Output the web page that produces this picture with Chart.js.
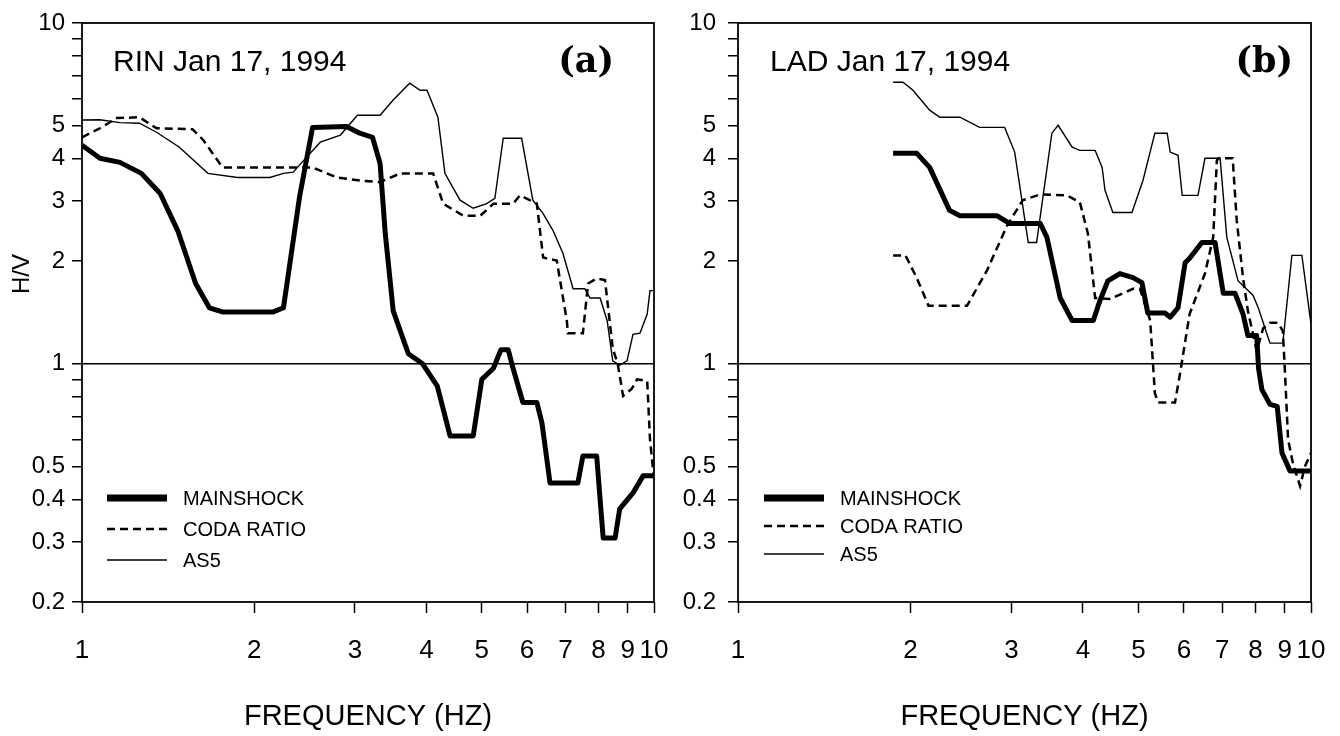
<!DOCTYPE html>
<html><head><meta charset="utf-8">
<script src="https://cdn.jsdelivr.net/npm/chart.js@4.4.1/dist/chart.umd.min.js"></script>
<style>
html,body{margin:0;padding:0;background:#fff;overflow:hidden}
#wrap{position:relative;width:1340px;height:736px;background:#fff}
canvas{position:absolute;top:0}
#ca{left:0}
#cb{left:670px}
</style></head><body>
<div id="wrap"><canvas id="ca" width="670" height="736"></canvas><canvas id="cb" width="670" height="736"></canvas></div>
<script>
// ---- tick labels ----
const xTicks = [1,2,3,4,5,6,7,8,9,10];
const yTicks = [0.2,0.3,0.4,0.5,0.6,0.7,0.8,0.9,1,2,3,4,5,6,7,8,9,10];
const yLabeled = [0.2,0.3,0.4,0.5,1,2,3,4,5,10];
const seriesNames = ['MAINSHOCK','CODA RATIO','AS5'];

// ---- (a) RIN Jan 17, 1994 ----
const rinMainFreq = [1,1.075,1.165,1.27,1.37,1.47,1.58,1.67,1.76,2.16,2.25,2.4,2.53,2.9,3.06,3.22,3.32,3.39,3.5,3.72,3.94,4.18,4.4,4.83,5.0,5.24,5.4,5.56,5.67,5.9,6.24,6.37,6.58,7.36,7.51,7.94,8.15,8.55,8.71,9.19,9.57,10];
const rinMainHV   = [4.38,4.01,3.9,3.62,3.16,2.46,1.72,1.46,1.42,1.42,1.46,3.08,4.94,4.97,4.75,4.62,3.87,2.41,1.43,1.07,1.0,0.86,0.614,0.614,0.9,0.97,1.1,1.1,0.97,0.77,0.77,0.67,0.447,0.447,0.536,0.536,0.308,0.308,0.375,0.418,0.469,0.469];
const rinCodaFreq = [1,1.075,1.15,1.26,1.35,1.56,1.63,1.76,2.53,2.79,3.06,3.32,3.6,4.11,4.28,4.64,4.97,5.24,5.67,5.83,6.24,6.4,6.76,7.04,7.07,7.51,7.67,7.94,8.21,8.47,8.64,8.83,9.15,9.34,9.73,9.84,10];
const rinCodaHV   = [4.62,4.91,5.26,5.29,4.91,4.88,4.53,3.77,3.77,3.52,3.45,3.41,3.62,3.62,2.95,2.72,2.72,2.95,2.95,3.12,2.95,2.05,2.01,1.34,1.23,1.23,1.72,1.78,1.76,1.11,1.0,0.805,0.845,0.9,0.89,0.6,0.46];
const rinAs5Freq  = [1,1.075,1.165,1.26,1.35,1.48,1.66,1.87,2.13,2.25,2.34,2.47,2.61,2.83,3.03,3.32,3.5,3.74,3.9,4.01,4.19,4.31,4.58,4.83,5.1,5.27,5.45,5.87,6.14,6.4,6.66,6.93,7.22,7.57,7.73,8.05,8.28,8.47,8.71,8.97,9.19,9.45,9.73,9.84,10];
const rinAs5HV    = [5.19,5.2,5.1,5.08,4.78,4.32,3.62,3.52,3.52,3.62,3.65,4.04,4.47,4.69,5.36,5.36,5.94,6.66,6.35,6.35,5.29,3.62,3.02,2.86,2.95,3.06,4.59,4.59,3.02,2.76,2.46,2.11,1.66,1.66,1.56,1.56,1.34,1.02,0.99,1.02,1.22,1.23,1.40,1.64,1.64];

// ---- (b) LAD Jan 17, 1994 ----
const ladMainFreq = [1.865,2.05,2.16,2.34,2.44,2.83,2.98,3.37,3.46,3.65,3.83,4.17,4.28,4.42,4.64,4.89,5.07,5.19,5.56,5.68,5.86,6.03,6.14,6.45,6.8,7.03,7.37,7.61,7.76,8.04,8.1,8.21,8.48,8.73,8.9,9.19,10];
const ladMainHV   = [4.15,4.15,3.77,2.82,2.72,2.72,2.58,2.58,2.35,1.56,1.34,1.34,1.53,1.75,1.84,1.79,1.73,1.41,1.41,1.37,1.46,1.98,2.04,2.27,2.27,1.61,1.61,1.40,1.21,1.21,0.97,0.84,0.76,0.75,0.547,0.485,0.485];
const ladCodaFreq = [1.865,1.96,2.05,2.15,2.51,2.72,2.95,3.14,3.37,3.75,3.95,4.08,4.2,4.46,4.89,5.03,5.24,5.34,5.41,5.79,5.91,6.14,6.53,6.75,6.85,6.9,7.3,7.42,7.61,7.76,8.04,8.25,8.48,8.75,8.93,9.0,9.12,9.3,9.57,9.76,10];
const ladCodaHV   = [2.08,2.08,1.79,1.48,1.48,1.88,2.55,3.02,3.14,3.12,2.98,2.41,1.56,1.55,1.66,1.66,1.34,0.82,0.77,0.77,0.94,1.40,1.84,2.35,3.95,4.01,4.01,2.63,1.79,1.43,1.09,1.27,1.32,1.32,1.25,0.97,0.60,0.51,0.438,0.50,0.547];
const ladAs5Freq  = [1.865,1.94,2.02,2.16,2.25,2.44,2.64,2.92,3.04,3.21,3.32,3.53,3.62,3.83,3.95,4.2,4.32,4.37,4.51,4.87,5.09,5.34,5.61,5.68,5.86,5.96,6.35,6.53,6.94,7.13,7.46,7.92,8.09,8.48,8.93,9.26,9.64,10];
const ladAs5HV    = [6.70,6.70,6.35,5.55,5.29,5.29,4.94,4.94,4.18,2.27,2.27,4.75,5.01,4.32,4.23,4.23,3.77,3.23,2.78,2.78,3.45,4.75,4.75,4.18,4.09,3.12,3.12,4.01,4.01,2.35,1.75,1.59,1.46,1.15,1.15,2.08,2.08,1.31];

const FAM = '"Liberation Sans", Arial, Helvetica, sans-serif';
Chart.defaults.font.family = FAM;
Chart.defaults.color = '#000';

function pts(fs, vs){ return fs.map((f,i)=>({x:f, y:vs[i]})); }

function datasets(main, coda, as5){
  return [
    {label:seriesNames[0], data:main, borderColor:'#000', borderWidth:5, borderJoinStyle:'round', legendWidth:7},
    {label:seriesNames[1], data:coda, borderColor:'#000', borderWidth:2.5, borderDash:[8,5], legendWidth:2.5},
    {label:seriesNames[2], data:as5, borderColor:'#000', borderWidth:1.4, legendWidth:1.6}
  ];
}

function annotPlugin(o){
  return {
    id:'annot',
    afterDraw(chart){
      const ctx = chart.ctx, a = chart.chartArea;
      ctx.save();
      ctx.strokeStyle = '#000'; ctx.lineWidth = 1.8; ctx.setLineDash([]);
      ctx.strokeRect(a.left, a.top, a.right - a.left, a.bottom - a.top);
      ctx.fillStyle = '#000';
      ctx.font = '30px ' + FAM; ctx.textAlign = 'left'; ctx.textBaseline = 'alphabetic';
      ctx.fillText(o.station, o.stX, 71);
      ctx.font = 'bold 35px "DejaVu Serif", "Liberation Serif", serif'; ctx.textAlign = 'right';
      ctx.fillText(o.tag, o.tagX, 72);
      if (o.yTitle){
        ctx.save(); ctx.translate(22, 274); ctx.rotate(-Math.PI/2);
        ctx.font = '24px ' + FAM; ctx.textAlign = 'center'; ctx.textBaseline = 'middle';
        ctx.fillText(o.yTitle, 0, 0); ctx.restore();
      }
      chart.data.datasets.forEach((ds, i) => {
        const y = o.legY[i];
        ctx.beginPath(); ctx.lineWidth = ds.legendWidth; ctx.setLineDash(ds.borderDash || []);
        ctx.moveTo(o.legX0, y); ctx.lineTo(o.legX1, y); ctx.stroke();
        ctx.setLineDash([]);
        ctx.font = '20px ' + FAM; ctx.textAlign = 'left'; ctx.textBaseline = 'middle';
        ctx.fillText(ds.label, o.legTx, y + 1);
      });
      ctx.restore();
    }
  };
}

function makeChart(id, dsets, o){
  return new Chart(document.getElementById(id), {
    type:'line',
    data:{datasets:dsets},
    plugins:[annotPlugin(o)],
    options:{
      responsive:false, animation:false, devicePixelRatio:1,
      parsing:false, normalized:true,
      layout:{padding:{top:23, right:o.padRight, left:0, bottom:0}},
      plugins:{legend:{display:false}, tooltip:{enabled:false}},
      elements:{point:{radius:0}, line:{tension:0, fill:false}},
      scales:{
        x:{type:'logarithmic', min:1, max:10,
           afterBuildTicks:s=>{ s.ticks = xTicks.map(v=>({value:v})); },
           ticks:{autoSkip:false, maxRotation:0, minRotation:0, color:'#000', font:{size:26, family:FAM}, padding:22, callback:v=>String(v)},
           grid:{display:true, drawOnChartArea:false, drawTicks:true, tickLength:11, tickColor:'#000', tickWidth:1.5},
           border:{display:false},
           title:{display:true, text:'FREQUENCY (HZ)', color:'#000', font:{size:29, family:FAM}, padding:{top:0, bottom:2}},
           afterFit:s=>{ s.height = 134; s.paddingLeft = 0; s.paddingRight = 0; }
        },
        y:{type:'logarithmic', min:0.2, max:10,
           afterBuildTicks:s=>{ s.ticks = yTicks.map(v=>({value:v})); },
           ticks:{autoSkip:false, color:'#000', font:{size:24, family:FAM}, padding:o.yPad, callback:v=> yLabeled.includes(v) ? String(v) : ''},
           grid:{color:c=> (c.tick && c.tick.value === 1) ? '#000' : 'rgba(0,0,0,0)', lineWidth:1.5, drawTicks:true, tickLength:10, tickColor:'#000', tickWidth:1.5},
           border:{display:false},
           afterFit:s=>{ s.width = o.yWidth; s.paddingTop = 0; s.paddingBottom = 0; }
        }
      }
    }
  });
}

makeChart('ca', datasets(pts(rinMainFreq,rinMainHV), pts(rinCodaFreq,rinCodaHV), pts(rinAs5Freq,rinAs5HV)), {
  station:'RIN Jan 17, 1994', stX:113, tag:'(a)', tagX:614, yTitle:'H/V',
  legX0:107, legX1:167, legTx:183, legY:[498,529,560],
  padRight:16, yWidth:82, yPad:7
});
makeChart('cb', datasets(pts(ladMainFreq,ladMainHV), pts(ladCodaFreq,ladCodaHV), pts(ladAs5Freq,ladAs5HV)), {
  station:'LAD Jan 17, 1994', stX:100, tag:'(b)', tagX:623, yTitle:null,
  legX0:94, legX1:154, legTx:170, legY:[498,526,554],
  padRight:29, yWidth:68, yPad:12
});
</script>
</body></html>
